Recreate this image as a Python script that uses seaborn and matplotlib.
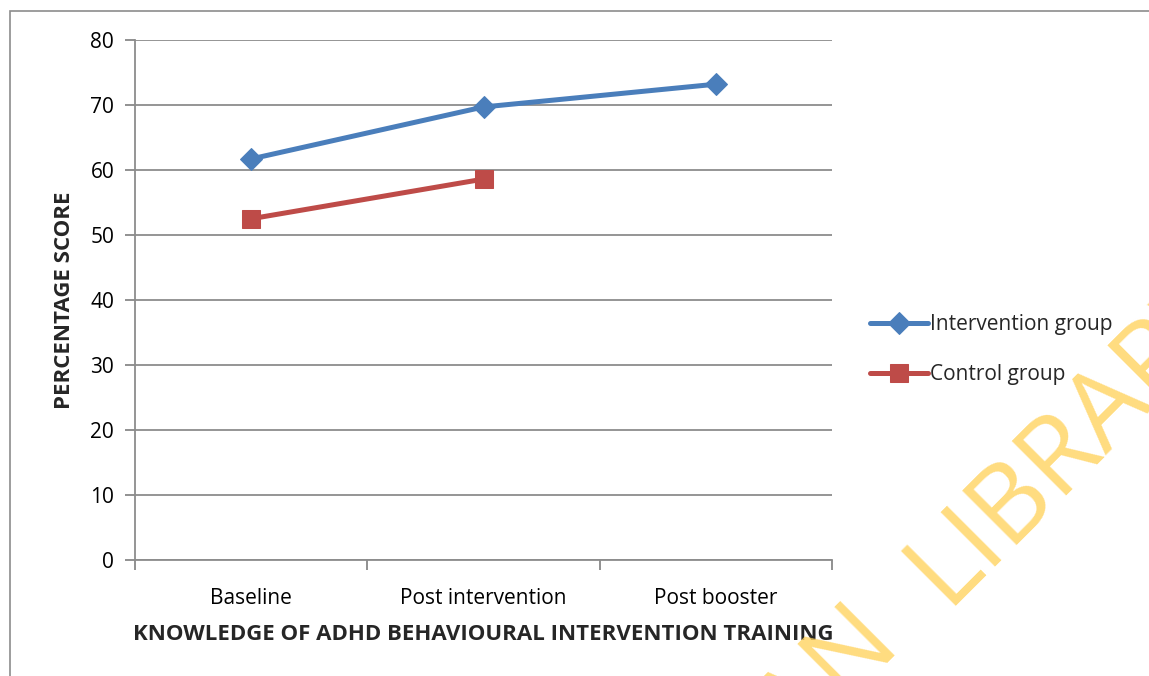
import numpy as np
import pandas as pd
import matplotlib
matplotlib.use("Agg")
import matplotlib.pyplot as plt
from matplotlib.patches import Rectangle
import seaborn as sns

# Data
stages = ["Baseline", "Post intervention", "Post booster"]
intervention_scores = [61.7, 69.7, 73.2]
control_scores = [52.5, 58.6]
yticks = [0, 10, 20, 30, 40, 50, 60, 70, 80]

sns.set_theme(style="white")
plt.rcParams["font.family"] = ["Open Sans", "DejaVu Sans"]

W, H = 1149, 676
fig = plt.figure(figsize=(W / 100, H / 100), dpi=100)

# Outer frame of the chart object
fig.patches.append(Rectangle((10 / W, -0.1), 1.2, 1 - 11 / H + 0.1,
                             transform=fig.transFigure, fill=False,
                             edgecolor="#8c8c8c", linewidth=1.2, zorder=0))

ax = fig.add_axes([135 / W, 1 - 560 / H, (832 - 135) / W, (560 - 40) / H])

df_int = pd.DataFrame({"stage": stages, "score": intervention_scores})
df_ctl = pd.DataFrame({"stage": stages[:len(control_scores)], "score": control_scores})

blue = "#4A7EBB"
red = "#BE4B48"

sns.lineplot(data=df_int, x=np.arange(len(stages)), y="score", ax=ax,
             color=blue, linewidth=3.6, marker="D", markersize=11.5,
             markeredgecolor=blue, label="Intervention group", zorder=3)
sns.lineplot(data=df_ctl, x=np.arange(len(control_scores)), y="score", ax=ax,
             color=red, linewidth=3.6, marker="s", markersize=13,
             markeredgecolor=red, label="Control group", zorder=3)

ax.set_xlim(-0.5, len(stages) - 0.5)
ax.set_ylim(0, 80)
ax.set_yticks(yticks)
ax.set_yticklabels([str(v) for v in yticks], fontsize=15)

# Category boundaries carry tick marks; labels sit at the centres
ax.set_xticks(np.arange(len(stages) + 1) - 0.5)
ax.set_xticklabels([""] * (len(stages) + 1))
ax.set_xticks(np.arange(len(stages)), minor=True)
ax.set_xticklabels(stages, minor=True, fontsize=15)
ax.tick_params(axis="x", which="major", direction="out", length=7,
               width=1.3, color="#888888", bottom=True)
ax.tick_params(axis="x", which="minor", length=0, pad=20, labelcolor="black")
ax.tick_params(axis="y", direction="out", length=7, width=1.3,
               color="#888888", left=True, pad=8, labelcolor="black")

ax.yaxis.grid(True, color="#8c8c8c", linewidth=1.3)
ax.xaxis.grid(False)
ax.set_axisbelow(True)
for side in ["top", "right"]:
    ax.spines[side].set_visible(False)
for side in ["left", "bottom"]:
    ax.spines[side].set_color("#8c8c8c")
    ax.spines[side].set_linewidth(1.3)

ax.set_xlabel("KNOWLEDGE OF ADHD BEHAVIOURAL INTERVENTION TRAINING",
              fontsize=16, fontweight="bold", labelpad=11)
ax.set_ylabel("PERCENTAGE SCORE", fontsize=16, fontweight="bold", labelpad=11)

leg = ax.legend(loc="center left", bbox_to_anchor=(1.043, 0.405), frameon=False,
                fontsize=15, handlelength=2.75, handletextpad=0.1,
                labelspacing=1.4, borderaxespad=0)

# Library watermark
wm_color = "#FFD35F"
fig.text(945 / W, 1 - 606 / H, "LIBRARY", rotation=45, rotation_mode="anchor",
         ha="left", va="baseline", fontsize=78, fontweight="normal",
         color=wm_color, alpha=0.8, zorder=10)
fig.text(903 / W, 1 - 648 / H, "UNIVERSITY OF IBADAN", rotation=45,
         rotation_mode="anchor", ha="right", va="baseline", fontsize=78,
         fontweight="normal", color=wm_color, alpha=0.8, zorder=10)

fig.savefig("out.png", dpi=100, facecolor="white")
